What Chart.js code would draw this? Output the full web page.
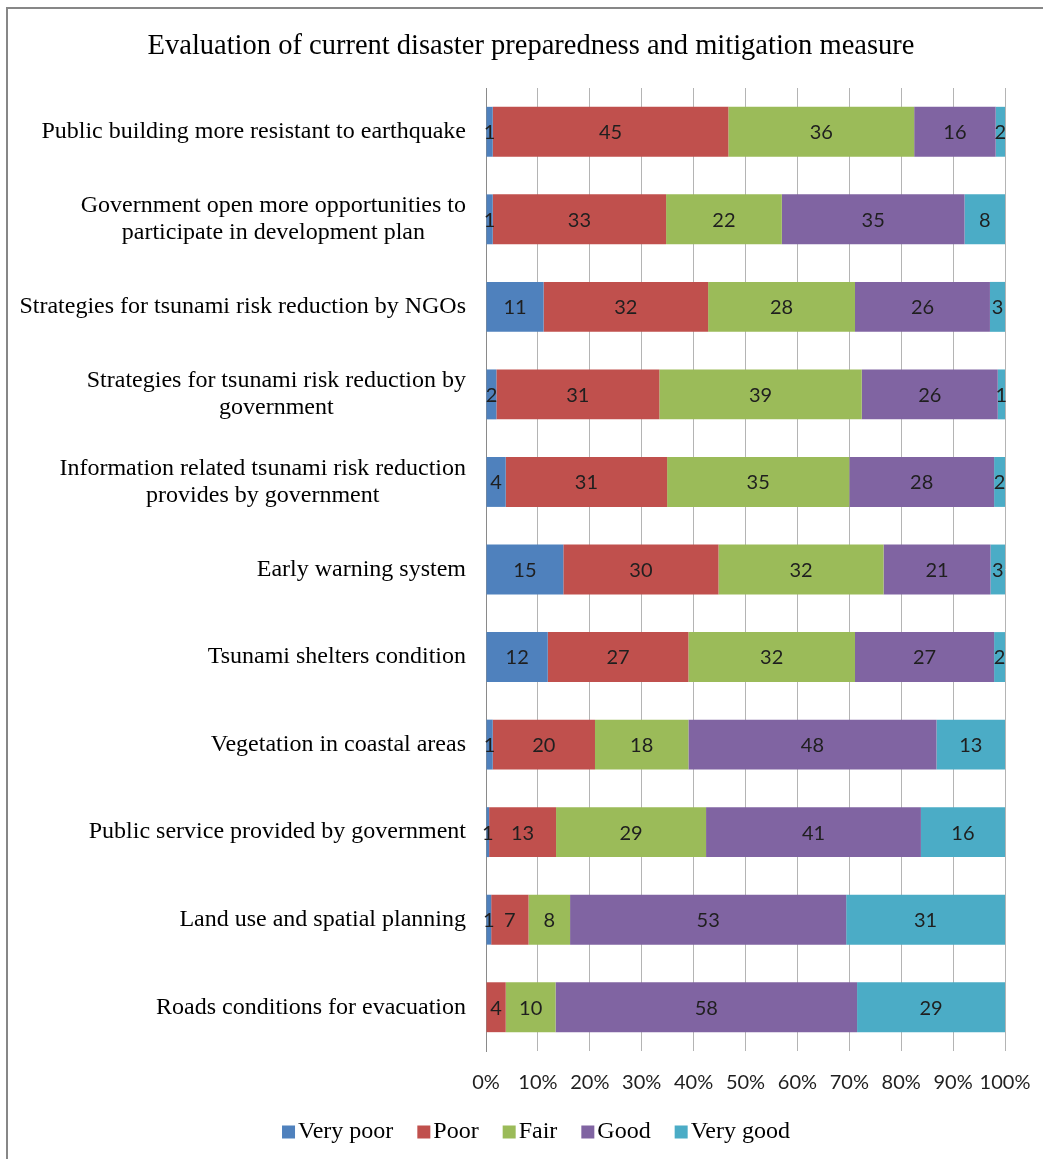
<!DOCTYPE html>
<html>
<head>
<meta charset="utf-8">
<script src="https://cdn.jsdelivr.net/npm/chart.js@4.4.1/dist/chart.umd.min.js"></script>
<style>
  html, body { margin: 0; padding: 0; background: #fff; }
  #wrap { position: relative; width: 1043px; height: 1159px; }
</style>
</head>
<body>
<div id="wrap"><canvas id="chart" width="1043" height="1159"></canvas></div>
<script>
// categories (top to bottom)
var categories = [
  'Public building more resistant to earthquake',
  ['Government open more opportunities to', 'participate in development plan'],
  'Strategies for tsunami risk reduction by NGOs',
  ['Strategies for tsunami risk reduction by', 'government'],
  ['Information related tsunami risk reduction', 'provides by government'],
  'Early warning system',
  'Tsunami shelters condition',
  'Vegetation in coastal areas',
  'Public service provided by government',
  'Land use and spatial planning',
  'Roads conditions for evacuation'
];

var seriesNames = ['Very poor', 'Poor', 'Fair', 'Good', 'Very good'];

// percentages
var veryPoor = [1.3, 1.3, 11.1, 2.0, 3.8, 14.9, 11.9, 1.3, 0.6, 1.0, 0];
var poor     = [45.4, 33.4, 31.7, 31.4, 31.1, 29.9, 27.1, 19.7, 12.9, 7.2, 3.8];
var fair     = [35.8, 22.3, 28.3, 39.0, 35.1, 31.8, 32.1, 18.0, 28.9, 8.0, 9.6];
var good     = [15.7, 35.2, 26.0, 26.2, 27.9, 20.6, 26.8, 47.8, 41.4, 53.2, 58.1];
var veryGood = [1.8, 7.8, 2.9, 1.4, 2.1, 2.8, 2.1, 13.2, 16.2, 30.6, 28.5];

var xTicks = [0, 10, 20, 30, 40, 50, 60, 70, 80, 90, 100];

var titleText = 'Evaluation of current disaster preparedness and mitigation measure';
var colors = ['#4F81BD', '#C0504D', '#9BBB59', '#8064A2', '#4BACC6'];
var serif = '"Liberation Serif", "DejaVu Serif", serif';
var sans = 'Lato, "Open Sans", sans-serif';

// frame around the chart object + title
var framePlugin = {
  id: 'frame',
  beforeDraw: function(chart) {
    var ctx = chart.ctx;
    ctx.save();
    ctx.fillStyle = '#fff';
    ctx.fillRect(0, 0, chart.width, chart.height);
    ctx.strokeStyle = '#878787';
    ctx.lineWidth = 2;
    ctx.beginPath();
    ctx.moveTo(7, chart.height + 5);
    ctx.lineTo(7, 8);
    ctx.lineTo(chart.width + 5, 8);
    ctx.stroke();
    ctx.font = '28.5px ' + serif;
    ctx.fillStyle = '#000';
    ctx.textAlign = 'center';
    ctx.textBaseline = 'middle';
    ctx.fillText(titleText, 531, 47);
    ctx.restore();
  }
};

// value labels in the middle of each segment
var valueLabels = {
  id: 'valueLabels',
  afterDatasetsDraw: function(chart) {
    var ctx = chart.ctx;
    ctx.save();
    ctx.font = '20px ' + sans;
    ctx.fillStyle = '#1f1f1f';
    ctx.textAlign = 'center';
    ctx.textBaseline = 'middle';
    chart.data.datasets.forEach(function(ds, di) {
      var meta = chart.getDatasetMeta(di);
      meta.data.forEach(function(bar, i) {
        var v = ds.data[i];
        if (!v) return;
        ctx.fillText(String(Math.round(v)), (bar.x + bar.base) / 2, bar.y + 1);
      });
    });
    ctx.restore();
  }
};

// category labels: block right-aligned, lines centred on each other
var catLabels = {
  id: 'catLabels',
  afterDraw: function(chart) {
    var ctx = chart.ctx;
    var y = chart.scales.y;
    var right = y.right - 20;
    ctx.save();
    ctx.font = '24px ' + serif;
    ctx.fillStyle = '#000';
    ctx.textAlign = 'center';
    ctx.textBaseline = 'middle';
    categories.forEach(function(lab, i) {
      var lines = Array.isArray(lab) ? lab : [lab];
      var w = 0;
      lines.forEach(function(l) { w = Math.max(w, ctx.measureText(l).width); });
      var cx = right - w / 2;
      var cy = y.getPixelForTick(i);
      var lh = 27;
      lines.forEach(function(l, k) {
        ctx.fillText(l, cx, cy + (k - (lines.length - 1) / 2) * lh);
      });
    });
    ctx.restore();
  }
};

// legend row under the axis, built from the datasets
var legendRow = {
  id: 'legendRow',
  afterDraw: function(chart) {
    var ctx = chart.ctx;
    ctx.save();
    ctx.font = '24px ' + serif;
    ctx.textBaseline = 'middle';
    ctx.textAlign = 'left';
    var box = 13, gap = 3, itemGap = 24;
    var items = chart.data.datasets.map(function(ds) {
      return { text: ds.label, color: ds.backgroundColor, w: ctx.measureText(ds.label).width };
    });
    var total = 0;
    items.forEach(function(it, k) { total += box + gap + it.w + (k ? itemGap : 0); });
    var x = 536 - total / 2;
    var cy = 1132;
    items.forEach(function(it) {
      ctx.fillStyle = it.color;
      ctx.fillRect(x, cy - box / 2, box, box);
      ctx.fillStyle = '#000';
      ctx.fillText(it.text, x + box + gap, cy);
      x += box + gap + it.w + itemGap;
    });
    ctx.restore();
  }
};

var series = [veryPoor, poor, fair, good, veryGood];
var datasets = series.map(function(d, k) {
  return {
    label: seriesNames[k],
    data: d,
    backgroundColor: colors[k],
    borderWidth: 0,
    barPercentage: 0.57,
    categoryPercentage: 1.0
  };
});

var ctx = document.getElementById('chart').getContext('2d');
var chart = new Chart(ctx, {
  type: 'bar',
  data: { labels: categories, datasets: datasets },
  options: {
    indexAxis: 'y',
    responsive: false,
    animation: false,
    devicePixelRatio: 1,
    layout: { padding: { left: 0, right: 38, top: 88, bottom: 44 } },
    plugins: {
      title: { display: false },
      legend: { display: false },
      tooltip: { enabled: false }
    },
    scales: {
      x: {
        stacked: true,
        min: 0,
        max: 100,
        afterBuildTicks: function(scale) {
          scale.ticks = xTicks.map(function(v) { return { value: v }; });
        },
        afterFit: function(scale) {
          scale.paddingLeft = 0;
          scale.paddingRight = 0;
        },
        ticks: {
          color: '#1f1f1f',
          font: { family: sans, size: 20 },
          padding: 20,
          autoSkip: false,
          maxRotation: 0,
          callback: function(v) { return v + '%'; }
        },
        grid: { color: '#b4b4b4', lineWidth: 1, drawTicks: false },
        border: { display: false }
      },
      y: {
        stacked: true,
        ticks: { display: false },
        grid: { display: false },
        border: { display: true, color: '#8a8a8a', width: 1 },
        afterFit: function(scale) { scale.width = 486; }
      }
    }
  },
  plugins: [framePlugin, valueLabels, catLabels, legendRow]
});
</script>
</body>
</html>
